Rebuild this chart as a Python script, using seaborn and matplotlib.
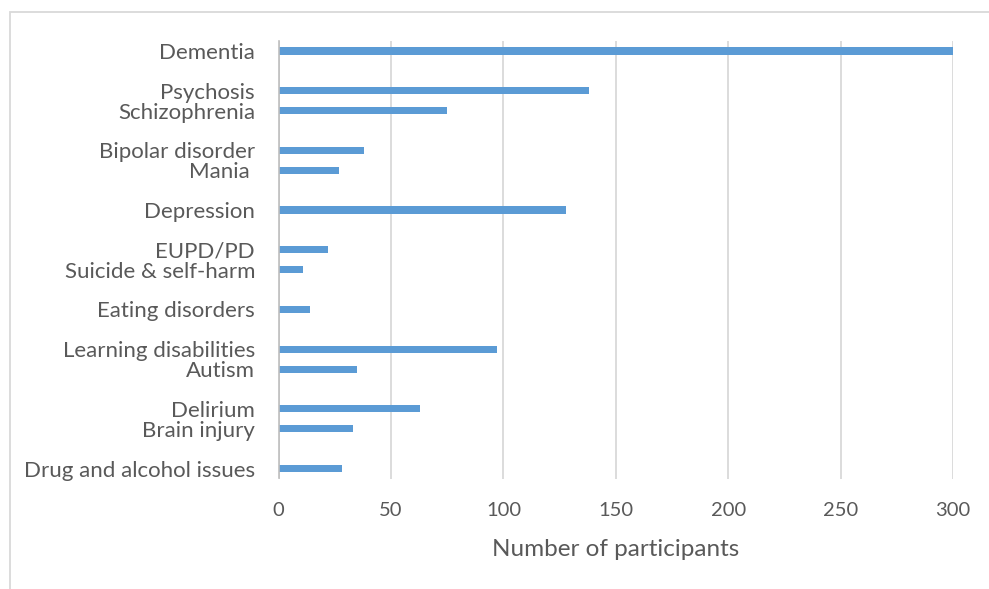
import matplotlib
matplotlib.use("Agg")
import matplotlib.pyplot as plt
from matplotlib.patches import Rectangle
import seaborn as sns
import pandas as pd

# Conditions in display order; None marks an empty spacer row between groups
conditions = [
    "Dementia", None,
    "Psychosis", "Schizophrenia", None,
    "Bipolar disorder", "Mania ", None,
    "Depression", None,
    "EUPD/PD", "Suicide & self-harm", None,
    "Eating disorders", None,
    "Learning disabilities", "Autism", None,
    "Delirium", "Brain injury", None,
    "Drug and alcohol issues",
]
participants = [
    300, None,
    138, 75, None,
    38, 27, None,
    128, None,
    22, 11, None,
    14, None,
    97, 35, None,
    63, 33, None,
    28,
]
x_ticks = [0, 50, 100, 150, 200, 250, 300]
x_label = "Number of participants"

# Spacer rows get unique blank labels so each keeps its own slot
labels, gap = [], 0
for c in conditions:
    if c is None:
        gap += 1
        labels.append(" " * gap)
    else:
        labels.append(c)
values = [v if v is not None else 0 for v in participants]
df = pd.DataFrame({"condition": labels, "n": values})

sns.set_style("white")
plt.rcParams["font.family"] = ["Lato", "DejaVu Sans"]

W, H = 989, 589
fig = plt.figure(figsize=(W / 100, H / 100), dpi=100)
ax = fig.add_axes([278.7 / W, 1 - 478.5 / H, (953 - 278.7) / W, (478.5 - 41) / H])

sns.barplot(data=df, y="condition", x="n", order=labels, orient="h",
            color="#5B9BD5", saturation=1, width=0.36, linewidth=0, ax=ax)

ax.set_xlim(0, 300)
ax.set_ylim(len(labels) - 0.5, -0.5)
ax.set_xticks(x_ticks)
ax.xaxis.grid(True, color="#d9d9d9", linewidth=1.3)
ax.set_axisbelow(True)
for s in ["top", "right", "bottom"]:
    ax.spines[s].set_visible(False)
ax.spines["left"].set_color("#bfbfbf")
ax.spines["left"].set_linewidth(1.2)

ax.tick_params(axis="both", length=0, colors="#595959")
ax.tick_params(axis="y", labelsize=16, pad=17)
ax.tick_params(axis="x", labelsize=14.5, pad=17)
ax.set_ylabel("")
ax.set_xlabel(x_label, fontsize=17.5, color="#595959", labelpad=14)

# Chart-area border
fig.patches.append(Rectangle((10 / W, -0.1), 2.0, (H - 12) / H + 0.1,
                             transform=fig.transFigure, fill=False,
                             edgecolor="#d9d9d9", linewidth=1.3))

fig.savefig("out.png", dpi=100)
